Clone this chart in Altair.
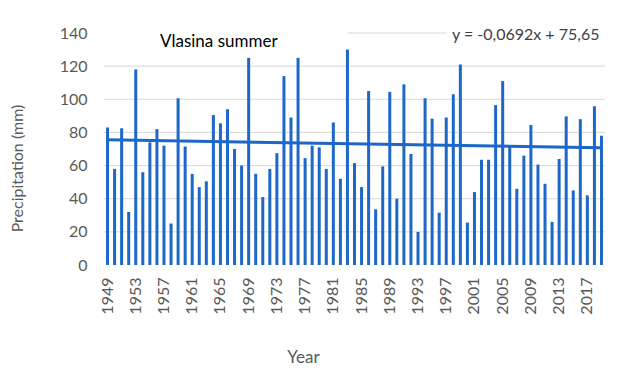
import altair as alt
import pandas as pd

years = list(range(1949, 2020))
precip = [83, 58, 82.5, 32, 118, 56, 74, 82, 72, 25,
          100.6, 71.5, 55, 47, 50.5, 90.5, 85.5, 94, 70, 60,
          125, 55, 41, 58, 67.5, 114, 89, 125, 64.5, 72,
          71, 58, 86, 52, 130, 61.5, 47, 105, 33.6, 59.5,
          104.5, 40, 109, 67, 20, 100.6, 88.3, 31.6, 89, 103,
          121, 25.6, 44, 63.5, 63.5, 96.5, 111, 72, 46, 66,
          84.5, 60.6, 49, 26, 64, 89.7, 45, 88, 42, 95.8,
          78]
slope, intercept = -0.0692, 75.65
tick_years = [str(y) for y in range(1949, 2020, 4)]
y_ticks = [0, 20, 40, 60, 80, 100, 120, 140]

df = pd.DataFrame({"Year": [str(y) for y in years], "Precip": precip})
trend = pd.DataFrame({
    "Year": [str(years[0]), str(years[-1])],
    "Trend": [slope * 1 + intercept, slope * len(years) + intercept],
})
grid140 = pd.DataFrame({"Year": ["1983"], "Year2": ["1997"], "v": [140]})

FONT = "Lato"
BLUE = "#1c67c8"

x_axis = alt.Axis(values=tick_years, labelAngle=270, labelFontSize=16,
                  labelColor="#595959", labelFont=FONT, ticks=False,
                  domain=False, labelPadding=12, grid=False,
                  labelOverlap=False,
                  title="Year", titleFont=FONT, titleFontSize=17,
                  titleFontWeight="normal", titleColor="#595959",
                  titleX=199, titleY=92, titleAlign="center",
                  titleBaseline="middle")
y_axis = alt.Axis(values=y_ticks,
                  labelFontSize=16, labelColor="#595959", labelFont=FONT,
                  ticks=False, domain=False, labelPadding=17,
                  grid=False, labelOverlap=False,
                  title="Precipitation (mm)", titleFont=FONT,
                  titleFontSize=16, titleFontWeight="normal",
                  titleColor="#595959", titleX=-87, titleY=135,
                  titleAngle=270, titleAlign="center",
                  titleBaseline="middle")

x_scale = alt.Scale(paddingInner=0, paddingOuter=0)
y_scale = alt.Scale(domain=[0, 140], nice=False)

grid_vals = pd.DataFrame({"v": y_ticks[1:-1]})
grid = alt.Chart(grid_vals).mark_rule(color="#d9d9d9", strokeWidth=1).encode(
    y=alt.Y("v:Q", scale=y_scale, axis=y_axis),
)
grid_top = alt.Chart(grid140).mark_rule(color="#d9d9d9", strokeWidth=1).encode(
    x=alt.X("Year:O", scale=x_scale, axis=x_axis), x2="Year2",
    y=alt.Y("v:Q", scale=y_scale, axis=y_axis),
)

bars = alt.Chart(df).mark_bar(size=3, color=BLUE).encode(
    x=alt.X("Year:O", scale=x_scale, axis=x_axis),
    y=alt.Y("Precip:Q", scale=y_scale, axis=y_axis),
)

trend_line = alt.Chart(trend).mark_line(color=BLUE, strokeWidth=3).encode(
    x=alt.X("Year:O", scale=x_scale, axis=x_axis),
    y=alt.Y("Trend:Q", scale=y_scale, axis=y_axis),
)

title_txt = alt.Chart(pd.DataFrame({"t": ["Vlasina summer"]})).mark_text(
    align="left", baseline="middle", fontSize=17, font=FONT, color="#000000"
).encode(x=alt.value(56), y=alt.value(9), text="t:N")

eq_txt = alt.Chart(pd.DataFrame({"t": ["y = -0,0692x + 75,65"]})).mark_text(
    align="left", baseline="middle", fontSize=16, font=FONT, color="#404040"
).encode(x=alt.value(348), y=alt.value(2), text="t:N")

chart = alt.layer(grid, grid_top, bars, trend_line, title_txt, eq_txt).properties(
    width=501, height=232,
    autosize=alt.AutoSizeParams(type="none"),
    padding={"left": 96, "top": 25, "right": 10, "bottom": 100},
    background="white",
).configure_view(stroke=None)

chart.save("out.html", embed_options={"renderer": "svg", "actions": False})
